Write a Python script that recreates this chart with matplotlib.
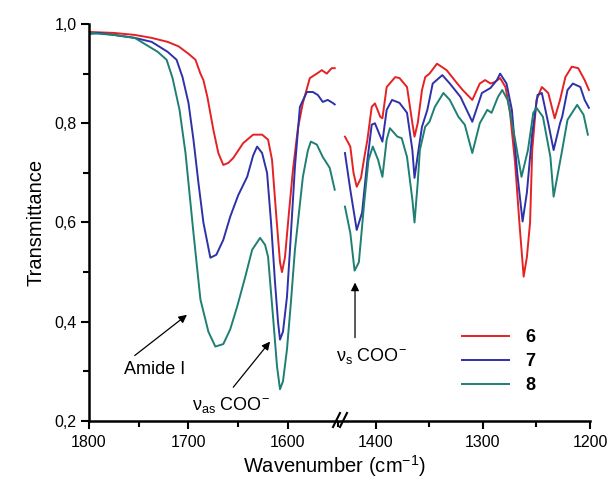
import matplotlib
matplotlib.use("Agg")
import matplotlib.pyplot as plt
from matplotlib.ticker import MultipleLocator, FuncFormatter

plt.rcParams['font.family'] = ['Liberation Sans', 'DejaVu Sans']
plt.rcParams['mathtext.fontset'] = 'custom'
plt.rcParams['mathtext.rm'] = 'Liberation Sans'
plt.rcParams['mathtext.it'] = 'Liberation Sans:italic'

# spectra, high-wavenumber part (1800-1550 cm-1)
wn_left_6 = [1800, 1775, 1754, 1737, 1721, 1710, 1700, 1693, 1688, 1685, 1681, 1675, 1670,
             1665, 1660, 1655, 1645, 1635, 1626, 1620, 1616, 1612, 1608, 1606, 1603, 1599,
             1595, 1590, 1585, 1578, 1571, 1566, 1561, 1556, 1553]
t_left_6 = [0.984, 0.982, 0.978, 0.972, 0.964, 0.955, 0.940, 0.928, 0.900, 0.887, 0.853, 0.787, 0.740,
            0.716, 0.720, 0.730, 0.760, 0.777, 0.777, 0.767, 0.726, 0.620, 0.520, 0.500, 0.530, 0.620,
            0.706, 0.790, 0.841, 0.891, 0.900, 0.907, 0.900, 0.911, 0.911]

wn_left_7 = [1800, 1790, 1775, 1754, 1737, 1721, 1712, 1706, 1700, 1695, 1690, 1685, 1678, 1672,
             1665, 1658, 1650, 1641, 1635, 1631, 1626, 1621, 1617, 1613, 1610, 1608, 1605, 1601,
             1598, 1593, 1588, 1581, 1575, 1570, 1565, 1560, 1555, 1553]
t_left_7 = [0.980, 0.982, 0.978, 0.972, 0.964, 0.944, 0.928, 0.893, 0.841, 0.767, 0.680, 0.600, 0.529, 0.535,
            0.565, 0.612, 0.655, 0.692, 0.735, 0.753, 0.740, 0.700, 0.600, 0.479, 0.400, 0.364, 0.380, 0.450,
            0.545, 0.712, 0.833, 0.863, 0.863, 0.857, 0.843, 0.847, 0.841, 0.838]

wn_left_8 = [1800, 1775, 1754, 1731, 1722, 1716, 1709, 1703, 1695, 1688, 1680, 1673, 1665, 1658,
             1651, 1643, 1636, 1628, 1623, 1620, 1615, 1611, 1608, 1605, 1601, 1597, 1593, 1585,
             1580, 1577, 1571, 1565, 1558, 1553]
t_left_8 = [0.982, 0.978, 0.972, 0.944, 0.928, 0.891, 0.827, 0.740, 0.579, 0.445, 0.380, 0.350, 0.355, 0.385,
            0.431, 0.490, 0.545, 0.569, 0.555, 0.531, 0.410, 0.310, 0.264, 0.280, 0.344, 0.440, 0.545, 0.692,
            0.745, 0.763, 0.757, 0.732, 0.710, 0.666]

# low-wavenumber part (1430-1200 cm-1)
wn_right_6 = [1429, 1424, 1421, 1418, 1414, 1411, 1408, 1404, 1401, 1396, 1394, 1390, 1382, 1378,
              1371, 1366, 1364, 1361, 1357, 1354, 1350, 1343, 1334, 1324, 1319, 1310, 1303, 1298,
              1293, 1289, 1284, 1279, 1275, 1270, 1266, 1262, 1259, 1256, 1254, 1250, 1245, 1239,
              1233, 1228, 1223, 1217, 1211, 1205, 1201]
t_right_6 = [0.773, 0.753, 0.700, 0.672, 0.690, 0.730, 0.767, 0.833, 0.840, 0.813, 0.810, 0.873, 0.893, 0.891,
             0.873, 0.800, 0.773, 0.800, 0.867, 0.893, 0.900, 0.920, 0.907, 0.880, 0.867, 0.847, 0.880, 0.887,
             0.880, 0.883, 0.891, 0.873, 0.827, 0.720, 0.600, 0.491, 0.530, 0.600, 0.746, 0.847, 0.873, 0.861,
             0.810, 0.847, 0.893, 0.914, 0.911, 0.887, 0.867]

wn_right_7 = [1429, 1424, 1418, 1413, 1408, 1404, 1401, 1394, 1390, 1385, 1378, 1371, 1366, 1364,
              1360, 1357, 1352, 1347, 1338, 1331, 1321, 1310, 1301, 1293, 1287, 1284, 1278, 1273,
              1268, 1263, 1259, 1254, 1249, 1245, 1239, 1234, 1228, 1226, 1221, 1216, 1209, 1205, 1201]
t_right_7 = [0.740, 0.666, 0.585, 0.620, 0.726, 0.797, 0.800, 0.763, 0.827, 0.847, 0.841, 0.821, 0.746, 0.690,
             0.750, 0.793, 0.827, 0.880, 0.897, 0.880, 0.853, 0.803, 0.861, 0.871, 0.887, 0.900, 0.880, 0.827,
             0.700, 0.602, 0.660, 0.780, 0.857, 0.861, 0.800, 0.746, 0.800, 0.813, 0.867, 0.880, 0.873, 0.847, 0.831]

wn_right_8 = [1429, 1424, 1420, 1416, 1411, 1407, 1403, 1398, 1394, 1390, 1387, 1380, 1376, 1371,
              1366, 1364, 1361, 1359, 1354, 1350, 1345, 1337, 1331, 1323, 1317, 1310, 1303, 1296,
              1292, 1286, 1282, 1277, 1270, 1264, 1258, 1253, 1250, 1244, 1237, 1234, 1226, 1221,
              1212, 1206, 1202]
t_right_8 = [0.632, 0.579, 0.503, 0.520, 0.640, 0.726, 0.753, 0.726, 0.692, 0.767, 0.790, 0.773, 0.770, 0.732,
             0.646, 0.600, 0.680, 0.746, 0.793, 0.803, 0.833, 0.861, 0.847, 0.813, 0.797, 0.740, 0.800, 0.827,
             0.821, 0.853, 0.867, 0.847, 0.767, 0.692, 0.746, 0.821, 0.831, 0.813, 0.732, 0.652, 0.746, 0.807,
             0.837, 0.817, 0.777]

labels = ['6', '7', '8']
colors = ['#e42224', '#2e31a8', '#1e7f72']

fig = plt.figure(figsize=(6.08, 4.83), dpi=100)
ax1 = fig.add_axes([89 / 608, 62 / 483, 249 / 608, 397 / 483])
ax2 = fig.add_axes([338 / 608, 62 / 483, 252 / 608, 397 / 483], sharey=ax1)

left = [(wn_left_6, t_left_6), (wn_left_7, t_left_7), (wn_left_8, t_left_8)]
right = [(wn_right_6, t_right_6), (wn_right_7, t_right_7), (wn_right_8, t_right_8)]
for (x, y), c in zip(left, colors):
    ax1.plot(x, y, color=c, lw=1.4)
for (x, y), c, lab in zip(right, colors, labels):
    ax2.plot(x, y, color=c, lw=1.4, label=lab)

ax1.set_xlim(1800, 1549.7)
ax2.set_xlim(1435.5, 1200)
ax1.set_ylim(0.2, 1.0)

for ax in (ax1, ax2):
    ax.spines['top'].set_visible(False)
    ax.spines['right'].set_visible(False)
    ax.spines['bottom'].set_linewidth(1.8)
    ax.xaxis.set_major_locator(MultipleLocator(100))
    ax.xaxis.set_minor_locator(MultipleLocator(50))
    ax.tick_params(axis='x', which='major', length=6, width=1.5, labelsize=11.5, pad=4)
    ax.tick_params(axis='x', which='minor', length=4, width=1.5)
ax2.spines['left'].set_visible(False)
ax2.tick_params(axis='y', which='both', left=False, labelleft=False)
ax1.spines['left'].set_linewidth(1.8)
ax1.yaxis.set_major_locator(MultipleLocator(0.2))
ax1.yaxis.set_minor_locator(MultipleLocator(0.1))
ax1.yaxis.set_major_formatter(FuncFormatter(lambda v, p: f"{v:.1f}".replace('.', ',')))
ax1.tick_params(axis='y', which='major', length=6, width=1.5, labelsize=11.5, pad=3)
ax1.tick_params(axis='y', which='minor', length=4, width=1.5)

# break marks on the x axis
for x0 in (333, 340):
    fig.add_artist(plt.Line2D([x0 / 608, (x0 + 7) / 608], [1 - 427 / 483, 1 - 413 / 483],
                              color='black', lw=1.5))

ax1.set_ylabel('Transmittance', fontsize=14.5, labelpad=6)
fig.text(334 / 608, 1 - 466 / 483, 'Wavenumber (cm$^{-1}$)', fontsize=14.5,
         ha='center', va='center')

# band annotations: arrows and labels placed separately
arrow = dict(arrowstyle='-|>', color='black', lw=0.9, shrinkA=0, shrinkB=0, mutation_scale=12)
ax1.annotate('', xy=(1701.5, 0.414), xytext=(1754, 0.332), arrowprops=arrow)
ax1.text(1734, 0.304, 'Amide I', fontsize=13, ha='center', va='center')
ax1.annotate('', xy=(1618, 0.36), xytext=(1655, 0.268), arrowprops=arrow)
ax1.text(1657, 0.232, r'$\mathrm{\nu_{as}}$ COO$^{-}$', fontsize=13, ha='center', va='center')
ax2.annotate('', xy=(1419.6, 0.479), xytext=(1419.6, 0.368), arrowprops=arrow)
ax2.text(1404, 0.33, r'$\mathrm{\nu_{s}}$ COO$^{-}$', fontsize=13, ha='center', va='center')

ax2.legend(loc='upper left', bbox_to_anchor=(462 / 608, 1 - 329 / 483),
           bbox_transform=fig.transFigure, frameon=False, borderpad=0, borderaxespad=0,
           handlelength=2.6, handletextpad=0.9, labelspacing=0.4,
           prop={'weight': 'bold', 'size': 13})

fig.savefig('out.png', dpi=100)
